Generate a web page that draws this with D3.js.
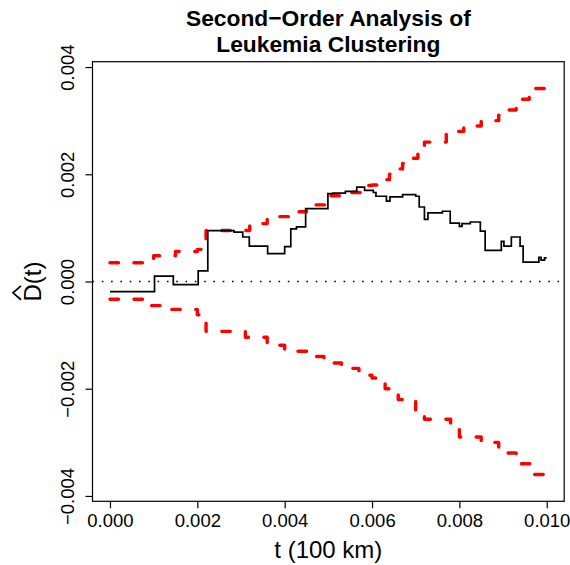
<!DOCTYPE html>
<html>
<head>
<meta charset="utf-8">
<script src="https://cdn.jsdelivr.net/npm/d3@7"></script>
<style>
  html, body { margin: 0; padding: 0; background: #fff; }
  svg { display: block; font-family: "Liberation Sans", Arial, Helvetica, sans-serif; }
</style>
</head>
<body>
<svg id="chart" width="570" height="565"></svg>
<script>
// ---- data ----
const titleLines = ["Second\u2212Order Analysis of", "Leukemia Clustering"];
const xLabel = "t (100 km)";
const xTicks = [0, 0.002, 0.004, 0.006, 0.008, 0.010];
const yTicks = [-0.004, -0.002, 0, 0.002, 0.004];

// observed D-hat(t), step function (value holds from t until next t)
const obsT = [0, 0.00102, 0.00145, 0.00202, 0.00224, 0.00284, 0.00304, 0.00319, 0.00361, 0.0040,
  0.00414, 0.00427, 0.00448, 0.00499, 0.0051, 0.00539, 0.00565, 0.00583, 0.00603, 0.00609,
  0.00633, 0.00641, 0.0067, 0.0070, 0.00708, 0.0072, 0.00728, 0.00761, 0.00779, 0.0080,
  0.00806, 0.00825, 0.00848, 0.00859, 0.00896, 0.00902, 0.00919, 0.00939, 0.00946, 0.00982,
  0.00987, 0.00995, 0.0100];
const obsD = [-0.00019, 0.0001, -0.00006, 0.0002, 0.00095, 0.00092, 0.00083, 0.00066, 0.00052, 0.00065,
  0.00098, 0.00102, 0.00136, 0.00164, 0.00165, 0.00168, 0.00176, 0.0017, 0.00166, 0.00159,
  0.0015, 0.00158, 0.00162, 0.00159, 0.00139, 0.00116, 0.00128, 0.00131, 0.00109, 0.00103,
  0.00108, 0.00111, 0.00094, 0.00058, 0.00075, 0.00066, 0.00083, 0.00066, 0.00036, 0.00045,
  0.0004, 0.00044, 0.00044];

// upper simulation envelope
const upT = [0, 0.0010, 0.0015, 0.0020, 0.00213, 0.0022, 0.0032, 0.0036, 0.0041, 0.0045,
  0.0050, 0.0054, 0.0058, 0.0060, 0.0062, 0.0064, 0.0066, 0.0067, 0.0069, 0.00705,
  0.0072, 0.0077, 0.0079, 0.0081, 0.0085, 0.0089, 0.0090, 0.0093, 0.0094, 0.0096,
  0.0097, 0.0100];
const upD = [0.00035, 0.00048, 0.00056, 0.0006, 0.00068, 0.00095, 0.00108, 0.00121, 0.0013, 0.00143,
  0.0016, 0.00166, 0.00179, 0.0018, 0.0019, 0.0020, 0.0021, 0.0022, 0.0023, 0.0024,
  0.0026, 0.00275, 0.0028, 0.0029, 0.0030, 0.0031, 0.0032, 0.0033, 0.0034, 0.0035,
  0.0036, 0.0036];

// lower simulation envelope
const loT = [0, 0.00095, 0.0014, 0.0020, 0.00213, 0.0022, 0.0031, 0.0036, 0.0040, 0.0041,
  0.0045, 0.0049, 0.0051, 0.0053, 0.0057, 0.0060, 0.0063, 0.0066, 0.0070, 0.0072,
  0.0078, 0.0080, 0.0085, 0.0089, 0.0093, 0.0094, 0.0097, 0.0100];
const loD = [-0.00033, -0.00045, -0.00052, -0.00062, -0.00068, -0.00093, -0.00104, -0.00119, -0.00127, -0.0013,
  -0.0014, -0.0015, -0.00152, -0.00162, -0.00175, -0.0018, -0.0020, -0.0022, -0.0024, -0.00257,
  -0.0027, -0.0029, -0.0030, -0.0032, -0.0033, -0.0034, -0.0036, -0.0036];

// ---- drawing ----
const svg = d3.select("#chart");
const x = d3.scaleLinear().domain([-0.0004, 0.0104]).range([92.5, 564.2]);
const y = d3.scaleLinear().domain([-0.0041, 0.0041]).range([501.3, 61.7]);
const fmt = d3.format(".3f");
const minus = s => s.replace("-", "\u2212");

// title
svg.append("g").selectAll("text").data(titleLines).join("text")
  .attr("x", (x.range()[0] + x.range()[1]) / 2)
  .attr("y", (d, i) => 26 + i * 25.5)
  .attr("text-anchor", "middle")
  .attr("font-weight", "bold")
  .attr("font-size", 22.8)
  .text(d => d);

// dotted zero line
svg.append("line")
  .attr("x1", x.range()[0]).attr("x2", x.range()[1])
  .attr("y1", y(0)).attr("y2", y(0))
  .attr("stroke", "#000").attr("stroke-width", 1.6)
  .attr("stroke-dasharray", "1.6,7.7");

const line = (ts, ds) => d3.line().curve(d3.curveStepAfter)
  .x(i => x(ts[i])).y(i => y(ds[i]))(d3.range(ts.length));

// envelopes
[[upT, upD], [loT, loD]].forEach(([ts, ds]) => {
  svg.append("path").attr("d", line(ts, ds))
    .attr("fill", "none").attr("stroke", "#ff0000")
    .attr("stroke-width", 3.4).attr("stroke-linecap", "round").attr("stroke-linejoin", "round")
    .attr("stroke-dasharray", "8.5,15.5");
});

// observed
svg.append("path").attr("d", line(obsT, obsD))
  .attr("fill", "none").attr("stroke", "#000").attr("stroke-width", 1.7);

// box
svg.append("rect")
  .attr("x", x.range()[0]).attr("y", y.range()[1])
  .attr("width", x.range()[1] - x.range()[0]).attr("height", y.range()[0] - y.range()[1])
  .attr("fill", "none").attr("stroke", "#000").attr("stroke-width", 1.2);

// x axis
const xAxis = svg.append("g").attr("transform", `translate(0,${y.range()[0]})`)
  .call(d3.axisBottom(x).tickValues(xTicks).tickFormat(fmt).tickSize(7).tickPadding(4));
xAxis.select(".domain").remove();
xAxis.selectAll(".tick line").attr("stroke", "#000").attr("stroke-width", 1.2);
xAxis.selectAll(".tick text").attr("font-size", 18.5).attr("font-family", null)
  .attr("fill", "#000").attr("dy", null).attr("y", 26);

// y axis
const yAxis = svg.append("g").attr("transform", `translate(${x.range()[0]},0)`)
  .call(d3.axisLeft(y).tickValues(yTicks).tickFormat(d => minus(fmt(d))).tickSize(7));
yAxis.select(".domain").remove();
yAxis.selectAll(".tick line").attr("stroke", "#000").attr("stroke-width", 1.2);
yAxis.selectAll(".tick text").attr("font-size", 18.5).attr("font-family", null)
  .attr("fill", "#000").attr("x", null).attr("dy", null)
  .attr("text-anchor", "middle")
  .attr("transform", "translate(-19,0) rotate(-90)");

// x label
svg.append("text")
  .attr("x", (x.range()[0] + x.range()[1]) / 2).attr("y", 558)
  .attr("text-anchor", "middle").attr("font-size", 24)
  .text(xLabel);

// y label: D-hat(t)
const yl = svg.append("g").attr("transform", `translate(41,${y(0)}) rotate(-90)`);
const ylt = yl.append("text").attr("text-anchor", "middle").attr("font-size", 24);
ylt.append("tspan").attr("class", "dsym").text("D");
ylt.append("tspan").text("(t)");
const full = ylt.node().getComputedTextLength();
const dW = ylt.select(".dsym").node().getComputedTextLength();
const x0 = -full / 2;
yl.append("path")
  .attr("d", `M${x0 + dW * 0.1},${-20} L${x0 + dW * 0.5},${-28} L${x0 + dW * 0.9},${-20}`)
  .attr("fill", "none").attr("stroke", "#000").attr("stroke-width", 1.7);
</script>
</body>
</html>
